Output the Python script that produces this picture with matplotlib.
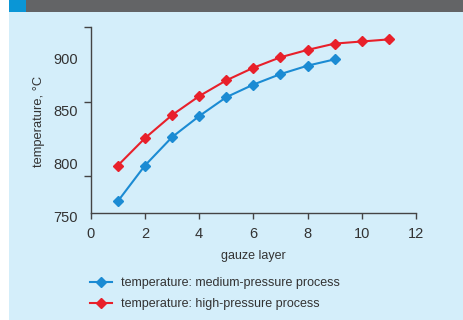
import matplotlib
matplotlib.use("Agg")
import matplotlib.pyplot as plt
from matplotlib.patches import Rectangle
from matplotlib.lines import Line2D

plt.rcParams['font.family'] = ['Liberation Sans', 'DejaVu Sans']

# Gauze temperature by layer for two ammonia-oxidation processes
layers_medium = [1, 2, 3, 4, 5, 6, 7, 8, 9]
temp_medium = [764, 798, 825, 845, 863, 875, 885, 893, 899]
layers_high = [1, 2, 3, 4, 5, 6, 7, 8, 9, 10, 11]
temp_high = [798, 824, 846, 864, 879, 891, 901, 908, 914, 916, 918]

x_ticks = [0, 2, 4, 6, 8, 10, 12]
y_ticks = [750, 800, 850, 900]
y_marks = [788.3, 858.1, 929.5]

label_medium = "temperature: medium-pressure process"
label_high = "temperature: high-pressure process"

BG = "#d4eefa"
BLUE = "#1b8bd3"
RED = "#e8202a"
AXC = "#444444"
TXT = "#333333"

W, H = 464, 320
fig = plt.figure(figsize=(W / 100, H / 100), dpi=100)
fig.patch.set_facecolor(BG)

# frame decorations: white margin, header bar, blue corner block
fig.add_artist(Rectangle((0, 0), 9 / W, 1, transform=fig.transFigure,
                         facecolor="white", edgecolor="none", zorder=0))
fig.add_artist(Rectangle((26 / W, 1 - 12 / H), 1, 12 / H, transform=fig.transFigure,
                         facecolor="#636466", edgecolor="none", zorder=0))
fig.add_artist(Rectangle((9 / W, 1 - 12 / H), 17 / W, 12 / H, transform=fig.transFigure,
                         facecolor="#0a96d6", edgecolor="none", zorder=0))

ax_left, ax_right = 90.7 / W, 416 / W
ax_bottom, ax_top = 1 - 216 / H, 1 - 27.3 / H
ax = fig.add_axes([ax_left, ax_bottom, ax_right - ax_left, ax_top - ax_bottom])
ax.set_facecolor("none")

ax.plot(layers_medium, temp_medium, color=BLUE, lw=1.5, marker="D", ms=5.5,
        mec=BLUE, mfc=BLUE, label=label_medium, zorder=3)
ax.plot(layers_high, temp_high, color=RED, lw=1.5, marker="D", ms=5.5,
        mec=RED, mfc=RED, label=label_high, zorder=3)

ax.set_xlim(0, 12)
ax.set_ylim(750, 929.5)

for s in ("top", "right"):
    ax.spines[s].set_visible(False)
ax.spines["bottom"].set_position(("data", 753.1))
ax.spines["left"].set_bounds(753.1, 929.5)
for s in ("left", "bottom"):
    ax.spines[s].set_color(AXC)
    ax.spines[s].set_linewidth(1.0)

ax.set_xticks(x_ticks)
ax.tick_params(axis="x", direction="out", length=4, width=1.0, color=AXC,
               labelsize=10.5, labelcolor=TXT, pad=6)
ax.set_yticks(y_ticks)
ax.set_yticks(y_marks, minor=True)
ax.tick_params(axis="y", which="major", length=0, labelsize=10.5,
               labelcolor=TXT, pad=9)
ax.tick_params(axis="y", which="minor", direction="out", length=5, width=1.0,
               color=AXC)

ax.set_xlabel("gauze layer", fontsize=9, color=TXT, labelpad=7)
ax.set_ylabel("temperature, °C", fontsize=9.3, color=TXT, labelpad=6)

handles = [
    Line2D([], [], color=BLUE, lw=1.5, marker="D", ms=5.5, label=label_medium),
    Line2D([], [], color=RED, lw=1.5, marker="D", ms=5.5, label=label_high),
]
fig.legend(handles=handles, loc="upper left",
           bbox_to_anchor=(85 / W, 1 - 272 / H), frameon=False,
           fontsize=9, labelcolor=TXT, handlelength=1.75,
           handletextpad=0.7, labelspacing=0.75, borderaxespad=0)

fig.savefig("out.png", dpi=100, facecolor=fig.get_facecolor())
